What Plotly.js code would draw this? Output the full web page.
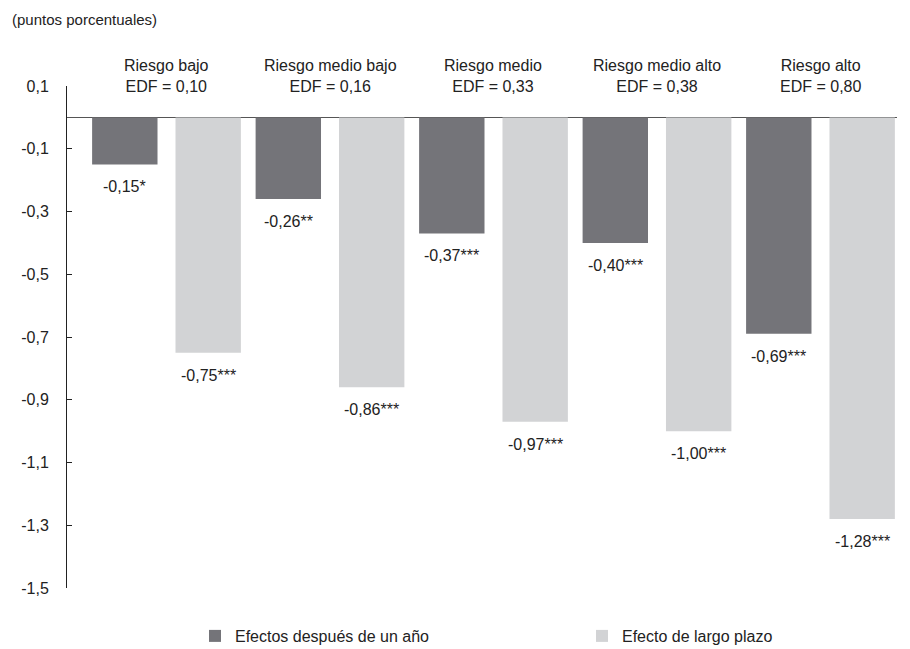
<!DOCTYPE html>
<html>
<head>
<meta charset="utf-8">
<script src="https://cdn.plot.ly/plotly-3.0.1.min.js"></script>
<style>html,body{margin:0;padding:0;background:#fff;}#chart{width:910px;height:649px;}</style>
</head>
<body>
<div id="chart"></div>
<script>
// Data
const groupNames = ["Riesgo bajo", "Riesgo medio bajo", "Riesgo medio", "Riesgo medio alto", "Riesgo alto"];
const edfLabels = ["EDF = 0,10", "EDF = 0,16", "EDF = 0,33", "EDF = 0,38", "EDF = 0,80"];
const seriesNames = ["Efectos después de un año", "Efecto de largo plazo"];
const oneYear = [-0.15, -0.26, -0.37, -0.40, -0.69];
const longRun = [-0.75, -0.86, -0.97, -1.00, -1.28];
const oneYearLabels = ["-0,15*", "-0,26**", "-0,37***", "-0,40***", "-0,69***"];
const longRunLabels = ["-0,75***", "-0,86***", "-0,97***", "-1,00***", "-1,28***"];
const tickVals = [0.1, -0.1, -0.3, -0.5, -0.7, -0.9, -1.1, -1.3, -1.5];
const tickLabels = ["0,1", "-0,1", "-0,3", "-0,5", "-0,7", "-0,9", "-1,1", "-1,3", "-1,5"];

const FONT = '"Liberation Sans", Arial, sans-serif';
const DARK = '#747479';
const LIGHT = '#d2d3d5';
const TXT = '#222';
const xIdx = groupNames.map((_, i) => i);

const BAR_W = 0.40, INNER = 0.11;
const OFF_DARK = -(INNER / 2 + BAR_W), OFF_LIGHT = INNER / 2;

const traces = [
  { type: 'bar', name: seriesNames[0], x: xIdx, y: oneYear, width: BAR_W, offset: OFF_DARK, marker: { color: DARK }, hoverinfo: 'none' },
  { type: 'bar', name: seriesNames[1], x: xIdx, y: longRun, width: BAR_W, offset: OFF_LIGHT, marker: { color: LIGHT }, hoverinfo: 'none' }
];

const L = 67, R = 13, T = 86, B = 61, W = 910, H = 649;
const pw = W - L - R, ph = H - T - B;

const annotations = [];
xIdx.forEach(i => {
  annotations.push({ x: i + OFF_DARK + BAR_W / 2, y: oneYear[i], xref: 'x', yref: 'y', text: oneYearLabels[i],
    showarrow: false, yanchor: 'top', yshift: -12, font: { family: FONT, size: 16, color: TXT } });
  annotations.push({ x: i + OFF_LIGHT + BAR_W / 2, y: longRun[i], xref: 'x', yref: 'y', text: longRunLabels[i],
    showarrow: false, yanchor: 'top', yshift: -12, font: { family: FONT, size: 16, color: TXT } });
  annotations.push({ x: i, y: 0.1, xref: 'x', yref: 'y', text: groupNames[i] + '<br>' + edfLabels[i],
    showarrow: false, yanchor: 'middle', yshift: 10.5, font: { family: FONT, size: 16, color: TXT } });
});
annotations.push({ x: (10 - L) / pw, y: 1 + (T - 19) / ph, xref: 'paper', yref: 'paper', text: '(puntos porcentuales)', showarrow: false,
  xanchor: 'left', yanchor: 'middle', font: { family: FONT, size: 15, color: TXT } });

const layout = {
  width: W, height: H,
  margin: { l: L, r: R, t: T, b: B, autoexpand: false },
  paper_bgcolor: '#fff', plot_bgcolor: '#fff',
  font: { family: FONT, size: 16, color: TXT },
  barmode: 'overlay',
  showlegend: true,
  legend: { orientation: 'h', x: (195 - L) / pw, xanchor: 'left', y: -(636 - (H - B)) / ph, yanchor: 'middle',
    entrywidth: 342, entrywidthmode: 'pixels', font: { family: FONT, size: 16, color: TXT } },
  xaxis: { range: [-0.6086, 4.468], showticklabels: false, ticks: '', showgrid: false, zeroline: false, showline: false, fixedrange: true },
  yaxis: { range: [-1.5, 0.1], tickvals: tickVals, ticktext: tickLabels, ticks: 'inside', ticklen: 5, tickcolor: TXT,
    showline: true, linecolor: TXT, linewidth: 1, showgrid: false, zeroline: true, zerolinecolor: '#555', zerolinewidth: 1.5,
    ticklabelstandoff: 14, tickfont: { family: FONT, size: 16, color: TXT }, fixedrange: true },
  annotations: annotations
};

Plotly.newPlot('chart', traces, layout, { displayModeBar: false, staticPlot: true });
</script>
</body>
</html>
